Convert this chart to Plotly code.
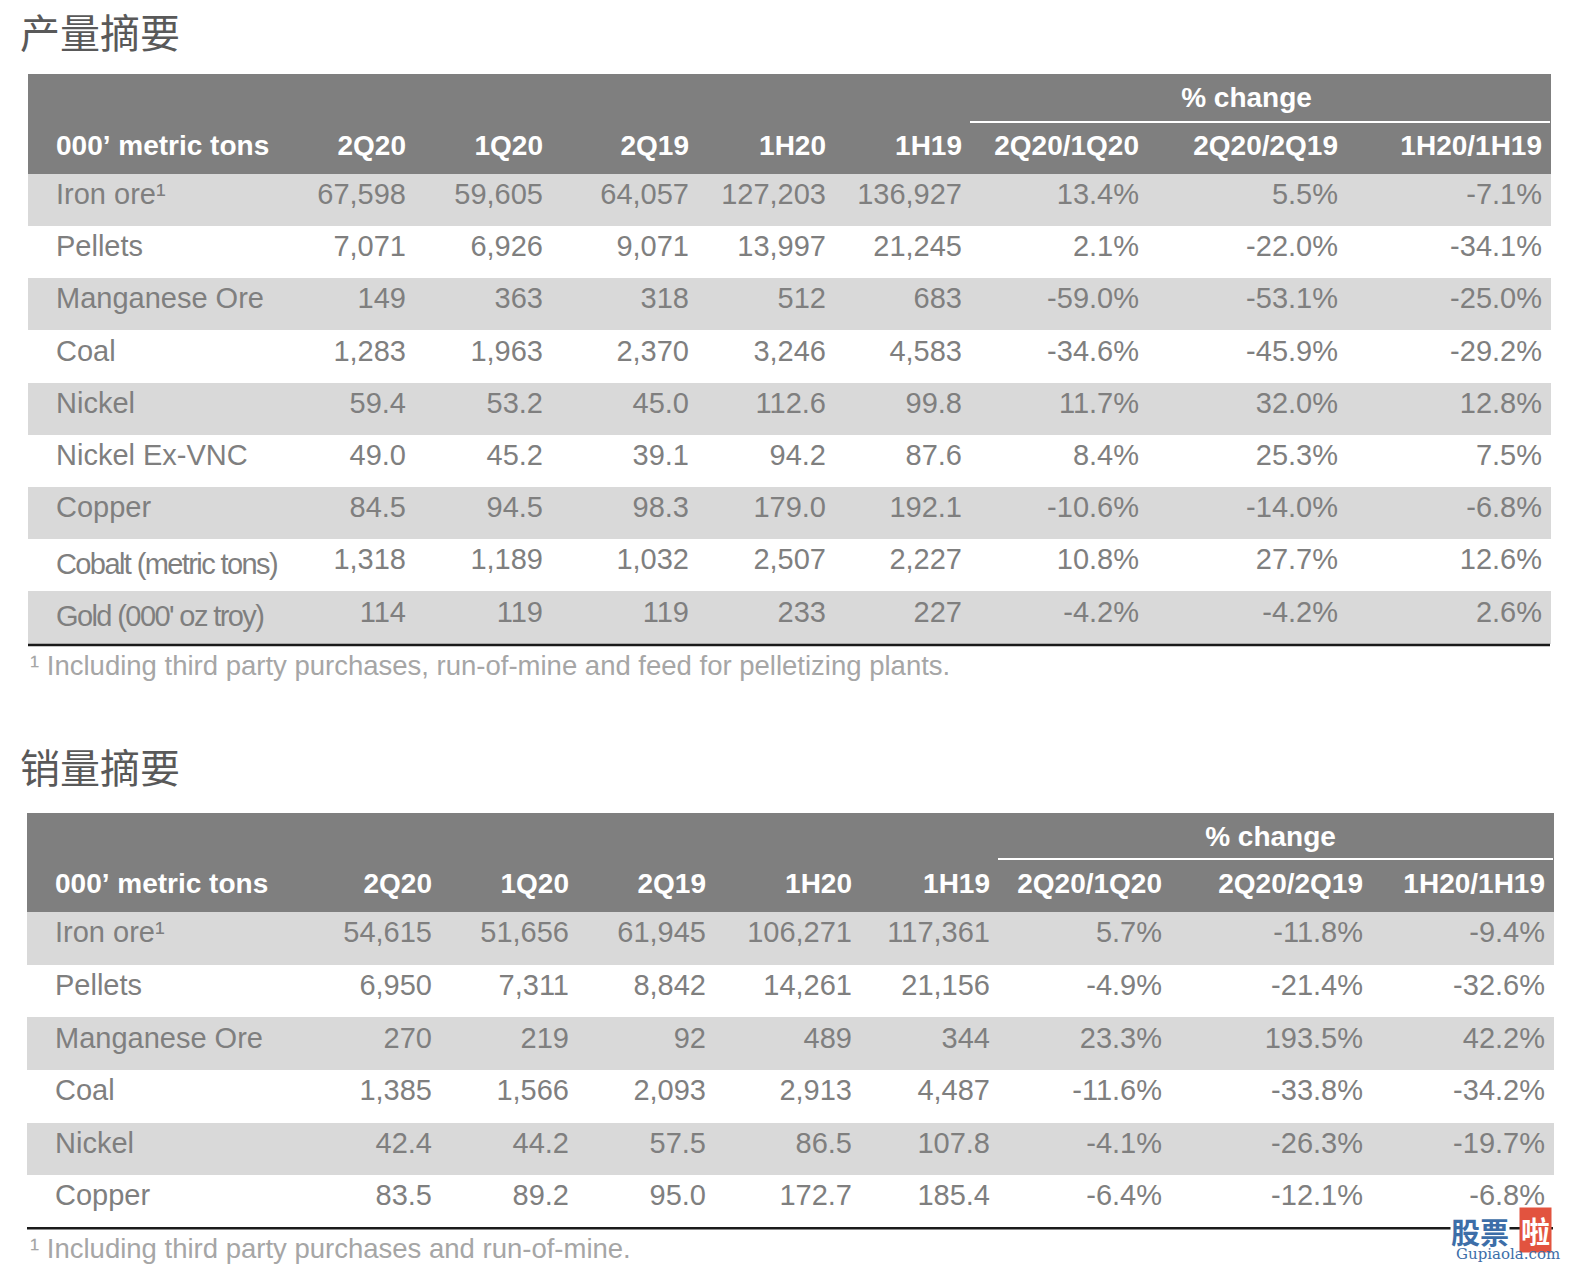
import plotly.graph_objects as go

# ---------------- data: production summary ----------------
prod_title = "产量摘要"
prod_items = ["Iron ore¹", "Pellets", "Manganese Ore", "Coal", "Nickel",
              "Nickel Ex-VNC", "Copper", "Cobalt (metric tons)", "Gold (000' oz troy)"]
prod_2q20 = [67598, 7071, 149, 1283, 59.4, 49.0, 84.5, 1318, 114]
prod_1q20 = [59605, 6926, 363, 1963, 53.2, 45.2, 94.5, 1189, 119]
prod_2q19 = [64057, 9071, 318, 2370, 45.0, 39.1, 98.3, 1032, 119]
prod_1h20 = [127203, 13997, 512, 3246, 112.6, 94.2, 179.0, 2507, 233]
prod_1h19 = [136927, 21245, 683, 4583, 99.8, 87.6, 192.1, 2227, 227]
prod_qoq = [13.4, 2.1, -59.0, -34.6, 11.7, 8.4, -10.6, 10.8, -4.2]
prod_yoy = [5.5, -22.0, -53.1, -45.9, 32.0, 25.3, -14.0, 27.7, -4.2]
prod_hoh = [-7.1, -34.1, -25.0, -29.2, 12.8, 7.5, -6.8, 12.6, 2.6]
prod_decimals = [0, 0, 0, 0, 1, 1, 1, 0, 0]
prod_narrow = [False] * 7 + [True, True]
prod_footnote = "¹ Including third party purchases, run-of-mine and feed for pelletizing plants."

# ---------------- data: sales summary ----------------
sales_title = "销量摘要"
sales_items = ["Iron ore¹", "Pellets", "Manganese Ore", "Coal", "Nickel", "Copper"]
sales_2q20 = [54615, 6950, 270, 1385, 42.4, 83.5]
sales_1q20 = [51656, 7311, 219, 1566, 44.2, 89.2]
sales_2q19 = [61945, 8842, 92, 2093, 57.5, 95.0]
sales_1h20 = [106271, 14261, 489, 2913, 86.5, 172.7]
sales_1h19 = [117361, 21156, 344, 4487, 107.8, 185.4]
sales_qoq = [5.7, -4.9, 23.3, -11.6, -4.1, -6.4]
sales_yoy = [-11.8, -21.4, 193.5, -33.8, -26.3, -12.1]
sales_hoh = [-9.4, -32.6, 42.2, -34.2, -19.7, -6.8]
sales_decimals = [0, 0, 0, 0, 1, 1]
sales_narrow = [False] * 6
sales_footnote = "¹ Including third party purchases and run-of-mine."

unit_label = "000’ metric tons"
period_labels = ["2Q20", "1Q20", "2Q19", "1H20", "1H19"]
change_labels = ["2Q20/1Q20", "2Q20/2Q19", "1H20/1H19"]
group_label = "% change"

# ---------------- page geometry (page body has an 8px margin) ----------------
OFF = 8
W, H = 1576 - 2 * OFF, 1272 - 2 * OFF


def sx(x):
    return (x - OFF) / W


def sy(y):
    return 1 - (y - OFF) / H


# ---------------- styles ----------------
HEAD_FILL = "#7f7f7f"
ODD_FILL = "#d9d9d9"
EVEN_FILL = "#ffffff"
TEXT_COL = "#7f7f7f"
FOOT_COL = "#a6a6a6"
BASE_FONT = "Liberation Sans, Arial, sans-serif"
CJK_FONT = "Noto Sans CJK SC, sans-serif"
NBSP = "\u00a0"


def fmt_num(v, d):
    return f"{v:,.{d}f}"


def fmt_pct(v):
    return f"{v:.1f}%"


# a trailing <br> keeps the table from word-wrapping (and so from splitting the tags)
def narrow_label(txt):
    return f"<span style=\"letter-spacing:-1.6px\">{txt.replace(' ', NBSP)}</span><br>"


def head_label(txt):
    return (f"<span style=\"font-size:28px\"><b>"
            f"{txt.replace(' ', NBSP)}</b></span><br>")


fig = go.Figure()
shapes = []
annotations = []


def add_table(items, periods, changes, decimals, narrow, left, right, top,
              band_h, row_h, widths):
    n = len(items)
    col_label = [head_label(unit_label)] + [narrow_label(t) if f else t
                                            for t, f in zip(items, narrow)]
    cols = [[""] * (n + 1), col_label]
    for lab, vals in zip(period_labels, periods):
        cols.append([head_label(lab)] + [fmt_num(v, d) for v, d in zip(vals, decimals)])
    for lab, vals in zip(change_labels, changes):
        cols.append([head_label(lab)] + [fmt_pct(v) for v in vals])
    ncol = len(cols)

    row_fill = [HEAD_FILL] + [ODD_FILL if i % 2 == 0 else EVEN_FILL for i in range(n)]
    fills = [row_fill] * ncol
    font_cols = [["#ffffff"] + [TEXT_COL] * n] * ncol

    header_vals = [""] * ncol
    header_vals[8] = f"<b>{group_label}</b>"
    header_align = ["left"] * ncol
    header_align[8] = "center"
    cell_align = ["left", "left"] + ["right"] * (ncol - 2)

    total_h = band_h + row_h * (n + 1)
    fig.add_trace(go.Table(
        domain=dict(x=[sx(left), sx(right)],
                    y=[max(0, sy(top + total_h + 12)), sy(top)]),
        columnwidth=widths,
        header=dict(values=header_vals, height=band_h, align=header_align,
                    fill=dict(color=HEAD_FILL),
                    line=dict(color=HEAD_FILL, width=1),
                    font=dict(family=BASE_FONT, size=28, color="#ffffff")),
        cells=dict(values=cols, height=row_h, align=cell_align,
                   fill=dict(color=fills),
                   line=dict(color=fills, width=1),
                   font=dict(family=BASE_FONT, size=29, color=font_cols)),
    ))
    x0 = left + sum(widths[:7])
    shapes.append(dict(type="line", xref="paper", yref="paper",
                       x0=sx(x0), x1=sx(right),
                       y0=sy(top + band_h), y1=sy(top + band_h),
                       line=dict(color="#ffffff", width=2)))
    yb = top + total_h + 1
    shapes.append(dict(type="line", xref="paper", yref="paper",
                       x0=sx(left), x1=sx(right), y0=sy(yb), y1=sy(yb),
                       line=dict(color="#1a1a1a", width=2.5)))
    return yb


w1 = [20, 252, 114, 137, 146, 137, 136, 177, 199, 204]
yb1 = add_table(prod_items,
                [prod_2q20, prod_1q20, prod_2q19, prod_1h20, prod_1h19],
                [prod_qoq, prod_yoy, prod_hoh],
                prod_decimals, prod_narrow, 28, 1550, 74, 48, 52.2, w1)

w2 = [20, 273, 120, 137, 137, 146, 138, 172, 201, 182]
yb2 = add_table(sales_items,
                [sales_2q20, sales_1q20, sales_2q19, sales_1h20, sales_1h19],
                [sales_qoq, sales_yoy, sales_hoh],
                sales_decimals, sales_narrow, 27, 1553, 813, 46, 52.6, w2)

for txt, yc in [(prod_title, 33), (sales_title, 768)]:
    annotations.append(dict(text=txt, x=sx(22 - 4), y=sy(yc - 2), xref="paper", yref="paper",
                            xanchor="left", yanchor="middle", showarrow=False,
                            font=dict(family=CJK_FONT, size=40, color="#595959")))
for txt, yc in [(prod_footnote, yb1 + 20), (sales_footnote, yb2 + 20)]:
    annotations.append(dict(text=txt, x=sx(30 - 2), y=sy(yc), xref="paper", yref="paper",
                            xanchor="left", yanchor="middle", showarrow=False,
                            font=dict(family=BASE_FONT, size=27.5, color=FOOT_COL)))

# watermark
annotations.append(dict(text="<b>股票</b>", x=sx(1450), y=sy(1231), xref="paper", yref="paper",
                        xanchor="left", yanchor="middle", showarrow=False, bgcolor="#ffffff",
                        borderpad=0,
                        font=dict(family=CJK_FONT, size=29, color="#3d6ea8")))
annotations.append(dict(text="<b>啦</b>", x=sx(1519), y=sy(1230), xref="paper", yref="paper",
                        xanchor="left", yanchor="middle", showarrow=False, bgcolor="#e2533f",
                        borderpad=1,
                        font=dict(family=CJK_FONT, size=29, color="#ffffff")))
annotations.append(dict(text="Gupiaola.com", x=sx(1508), y=sy(1254), xref="paper", yref="paper",
                        xanchor="center", yanchor="middle", showarrow=False,
                        font=dict(family="DejaVu Serif, serif", size=15, color="#3d6ea8")))

fig.update_layout(width=W, height=H, margin=dict(l=0, r=0, t=0, b=0),
                  paper_bgcolor="#ffffff", plot_bgcolor="#ffffff",
                  shapes=shapes, annotations=annotations, showlegend=False)

fig.write_html("out.html")
